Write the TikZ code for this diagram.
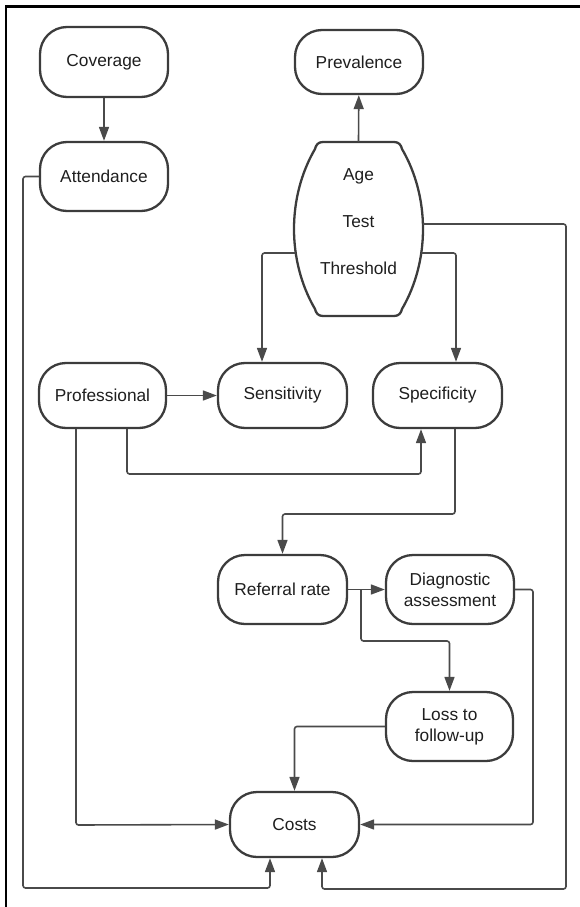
\documentclass[tikz,border=0pt]{standalone}
\usepackage{fontspec}
\setmainfont{Liberation Sans}
\usetikzlibrary{arrows.meta}
\definecolor{boxline}{HTML}{3C3C3C}
\definecolor{conline}{HTML}{4A4A4A}
\definecolor{txt}{HTML}{1E1E1E}
\tikzset{
  box/.style={draw=boxline, line width=2.3pt, rounded corners=27pt, inner sep=0pt,
    minimum width=128pt, minimum height=66pt, align=center, text=txt,
    font=\fontsize{17.3}{21}\selectfont},
  conn/.style={draw=conline, line width=1.6pt, rounded corners=2.5pt,
    -{Triangle[length=14pt,width=10pt]}},
  plain/.style={draw=conline, line width=1.6pt, rounded corners=2.5pt}
}
\begin{document}
\begin{tikzpicture}[x=1pt,y=-1pt]
\useasboundingbox (0,0) rectangle (580,907);
% frame (left and top edges)
\draw[black, line width=2.6pt] (6,907) -- (6,6.5) -- (580,6.5);

% nodes
\node[box, minimum height=70pt] (cov) at (104,62) {Coverage};
\node[box, minimum height=69pt] (att) at (104,176.5) {Attendance};
\node[box, minimum height=64pt] (prev) at (359,62) {Prevalence};

% barrel
\draw[boxline, line width=2.3pt, line join=round]
  (323,142) -- (394,142) .. controls (399,142) and (401,145) .. (402,149)
  .. controls (430,197) and (430,261) .. (402,309)
  .. controls (401,313) and (399,316) .. (394,316)
  -- (323,316) .. controls (318,316) and (316,313) .. (315,309)
  .. controls (287,261) and (287,197) .. (315,149)
  .. controls (316,145) and (318,142) .. (323,142) -- cycle;
\node[align=center, text=txt, font=\fontsize{17.3}{47}\selectfont] (atp) at (358.5,222) {Age\\Test\\Threshold};
\coordinate (bT) at (358.5,142);
\coordinate (bR1) at (422.9,224);
\coordinate (bR2) at (421.3,253);
\coordinate (bL2) at (295.7,253);

\node[box, minimum width=127pt, minimum height=65pt] (prof) at (102.5,395.5) {Professional};
\node[box, minimum width=129pt, minimum height=65pt] (sens) at (282.5,395.5) {Sensitivity};
\node[box, minimum width=129pt, minimum height=65pt] (spec) at (437.5,395.5) {Specificity};
\node[box, minimum width=129pt, minimum height=69pt] (ref) at (282.5,589.5) {Referral rate};
\node[box, minimum width=128pt, minimum height=69pt] (diag) at (450,589.5) {Diagnostic\\assessment};
\node[box, minimum width=127pt, minimum height=69pt] (loss) at (449.5,726.5) {Loss to\\follow-up};
\node[box, minimum width=129pt, minimum height=65pt] (costs) at (294.5,824.5) {Costs};

% connectors
\draw[conn] (cov) -- (att);
\draw[conn] (bT) -- (prev);
\draw[conn] (att.west) -- (23,176.5) -- (23,888) -- (270,888) -- ([xshift=-24.5pt]costs.south);
\draw[conn] (bR1) -- (566,224) -- (566,889) -- (322,889) -- ([xshift=27.5pt]costs.south);
\draw[conn] (bR2) -- (456,253) -- ([xshift=18.5pt]spec.north);
\draw[conn] (bL2) -- (262,253) -- ([xshift=-20.5pt]sens.north);
\draw[conn] (prof) -- (sens);
\draw[conn] ([xshift=24.5pt]prof.south) -- (127,474) -- (421,474) -- ([xshift=-16.5pt]spec.south);
\draw[conn] ([xshift=-26.5pt]prof.south) -- (76,825) -- (costs.west);
\draw[conn] ([xshift=17.5pt]spec.south) -- (455,514) -- (282.5,514) -- (ref.north);
\draw[conn] (ref) -- (diag);
\coordinate (br) at (361,589.5);
\draw[conn] (br) -- (361,641) -- (449.5,641) -- (loss.north);
\draw[conn] (diag.east) -- (533,589.5) -- (533,824.5) -- (costs.east);
\draw[conn] (loss.west) -- (294.5,726.5) -- (costs.north);
\end{tikzpicture}
\end{document}
